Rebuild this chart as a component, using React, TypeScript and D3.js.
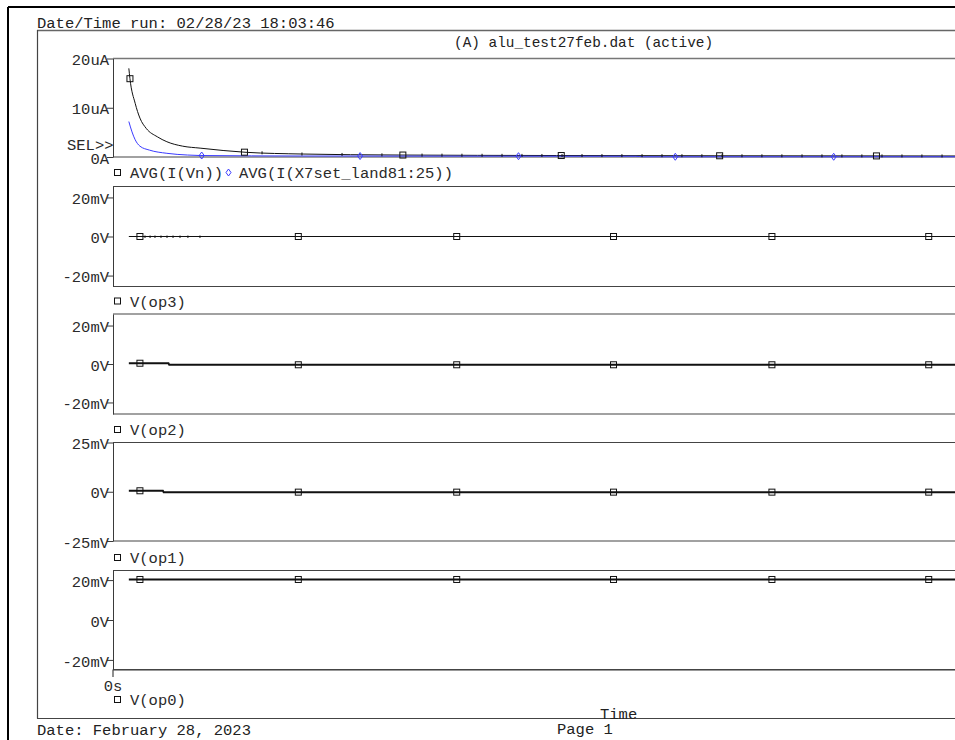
import * as d3 from "d3";
import { useRef, useEffect } from "react";

// time in microseconds (only 0s is labelled on the chart)
const timeDomain = [0, 56];

// top plot, uA
const vnTime = [1.0, 1.07, 1.4, 1.7, 2.1, 2.8, 3.4, 4.4, 5.5, 8.4, 12, 18, 28, 38, 56];
const vnAvg = [18.0, 15.9, 10.9, 7.9, 5.8, 4.1, 3.1, 2.2, 1.8, 0.95, 0.6, 0.4, 0.3, 0.25, 0.2];
const x7Time = [1.0, 1.2, 1.4, 1.7, 2.3, 3.4, 4.7, 5.5, 12, 33, 33.5, 56];
const x7Avg = [7.2, 5.1, 3.5, 2.2, 1.4, 0.75, 0.4, 0.3, 0.2, 0.15, 0.05, 0.05];
const vnMarkTime = [1.07, 8.3, 18.3, 28.3, 38.3, 48.2];
const x7MarkTime = [5.6, 15.6, 25.6, 35.5, 45.5];
// small data-point ticks along AVG(I(Vn))
const vnTickTime = [
  9.41, 11.93, 14.46, 16.98, 19.51, 20.77, 22.03, 23.3, 24.56, 25.82, 27.08, 28.35,
  29.61, 30.87, 32.13, 33.4, 34.66, 35.92, 37.18, 38.45, 39.71, 40.97, 42.23, 43.5,
  44.76, 46.02, 47.28, 48.55, 49.81, 51.07, 52.34,
];

// voltage plots, mV
const op3Time = [1.0, 56];
const op3 = [0, 0];
const op3TickTime = [2.02, 2.34, 2.65, 3.03, 3.41, 3.79, 4.23, 4.73, 5.49];
const op2Time = [1.0, 3.5, 3.55, 56];
const op2 = [0.4, 0.4, -0.4, -0.4];
const op1Time = [1.0, 3.15, 3.2, 56];
const op1 = [0.5, 0.5, -0.2, -0.2];
const op0Time = [1.0, 56];
const op0 = [20.3, 20.3];
const opMarkTime = [1.7, 11.7, 21.7, 31.6, 41.6, 51.5];

const uaTicks = [0, 10, 20];
const uaTickLabels = ["0A", "10uA", "20uA"];
const mv20Ticks = [-20, 0, 20];
const mv20Labels = ["-20mV", "0V", "20mV"];
const mv25Ticks = [-25, 0, 25];
const mv25Labels = ["-25mV", "0V", "25mV"];

const FONT = "'Liberation Mono', 'Courier New', monospace";
const W = 955;
const H = 740;
const AX = 113;

const x = d3.scaleLinear().domain(timeDomain).range([AX, 1000]);

const panels = [
  { top: 58.5, bottom: 157, domain: [0, 20], ticks: uaTicks, labels: uaTickLabels, legendY: 178 },
  { top: 186.5, bottom: 286.5, domain: [-25.6, 25.6], ticks: mv20Ticks, labels: mv20Labels, legendY: 306.5, name: "V(op3)", t: op3Time, v: op3, w: 1, dots: op3TickTime },
  { top: 314, bottom: 414, domain: [-26, 26], ticks: mv20Ticks, labels: mv20Labels, legendY: 435, name: "V(op2)", t: op2Time, v: op2, w: 2 },
  { top: 442.5, bottom: 541, domain: [-25, 25], ticks: mv25Ticks, labels: mv25Labels, legendY: 563, name: "V(op1)", t: op1Time, v: op1, w: 2 },
  { top: 570.5, bottom: 669.5, domain: [-24.8, 24.8], ticks: mv20Ticks, labels: mv20Labels, legendY: 705, name: "V(op0)", t: op0Time, v: op0, w: 2 },
];

function interp(ts: number[], vs: number[]) {
  return d3.scaleLinear().domain(ts).range(vs).clamp(true);
}

function YAxis({ y, ticks, labels }: any) {
  const ref = useRef<SVGGElement>(null);
  useEffect(() => {
    const g = d3.select(ref.current);
    g.call(
      d3.axisLeft(y)
        .tickValues(ticks)
        .tickFormat((d: any, i: number) => labels[i])
        .tickSize(6)
        .tickSizeOuter(0)
        .tickPadding(-2)
    );
    g.attr("font-family", FONT).attr("font-size", 15.5).attr("color", "#3a3a3a");
    g.selectAll("text").attr("fill", "#2a2a2a").attr("dy", "0.4em");
  }, [y, ticks, labels]);
  return <g ref={ref} transform={`translate(${AX},0)`} />;
}

function Square({ cx, cy }: { cx: number; cy: number }) {
  return <rect x={cx - 3} y={cy - 3} width={6} height={6} fill="none" stroke="#111" strokeWidth={1} />;
}

function Diamond({ cx, cy, color }: { cx: number; cy: number; color: string }) {
  return (
    <path
      d={`M${cx},${cy - 3.5}L${cx + 2.5},${cy}L${cx},${cy + 3.5}L${cx - 2.5},${cy}Z`}
      fill="none"
      stroke={color}
      strokeWidth={1}
    />
  );
}

export default function App() {
  const blue = "#3b3bff";
  const scales = panels.map((p) => d3.scaleLinear().domain(p.domain).range([p.bottom, p.top]));
  const y0 = scales[0];

  const vnLine = d3.line<number>().x((d, i) => x(vnTime[i])).y((d) => y0(d)).curve(d3.curveMonotoneX);
  const x7Line = d3.line<number>().x((d, i) => x(x7Time[i])).y((d) => y0(d)).curve(d3.curveMonotoneX);
  const vnAt = interp(vnTime, vnAvg);
  const x7At = interp(x7Time, x7Avg);

  return (
    <svg
      width={W}
      height={H}
      style={{ position: "absolute", left: 0, top: 0, background: "#fff" }}
      fontFamily={FONT}
    >
      {/* page border */}
      <line x1={8} y1={7} x2={W} y2={7} stroke="#000" strokeWidth={2} />
      <line x1={8} y1={7} x2={8} y2={H} stroke="#000" strokeWidth={2} />
      <text x={37} y={28} fontSize={15.5} fill="#222">Date/Time run: 02/28/23 18:03:46</text>

      {/* inner frame */}
      <line x1={37} y1={30.5} x2={W} y2={30.5} stroke="#666" strokeWidth={1.5} />
      <line x1={37.5} y1={30} x2={37.5} y2={718.5} stroke="#444" strokeWidth={1.2} />
      <line x1={37} y1={718.5} x2={W} y2={718.5} stroke="#444" strokeWidth={1.2} />
      <text x={454} y={47} fontSize={14.4} fill="#222">(A) alu_test27feb.dat (active)</text>

      {panels.map((p, k) => (
        <g key={k}>
          <line x1={AX} y1={p.top} x2={W} y2={p.top} stroke={k === 0 ? "#777" : "#444"} strokeWidth={k === 0 ? 1.5 : 1.2} />
          <line x1={AX} y1={p.bottom} x2={W} y2={p.bottom} stroke="#444" strokeWidth={1.2} />
          <YAxis y={scales[k]} ticks={p.ticks} labels={p.labels} />
        </g>
      ))}

      {/* top plot: currents */}
      <text x={67} y={149.5} fontSize={15.5} fill="#2a2a2a">SEL&gt;&gt;</text>
      <path d={vnLine(vnAvg) ?? ""} fill="none" stroke="#111" strokeWidth={1} />
      <path d={x7Line(x7Avg) ?? ""} fill="none" stroke={blue} strokeWidth={1} />
      {vnTickTime.map((t, i) => (
        <line key={"k" + i} x1={x(t)} x2={x(t)} y1={y0(vnAt(t)) - 1.5} y2={y0(vnAt(t)) + 1.5} stroke="#111" strokeWidth={1} />
      ))}
      {vnMarkTime.map((t, i) => (
        <Square key={"s" + i} cx={x(t)} cy={y0(vnAt(t))} />
      ))}
      {x7MarkTime.map((t, i) => (
        <Diamond key={"d" + i} cx={x(t)} cy={y0(x7At(t))} color={blue} />
      ))}
      <Square cx={117.5} cy={172.5} />
      <text x={130} y={178} fontSize={15.5} fill="#2a2a2a">AVG(I(Vn))</text>
      <Diamond cx={228.5} cy={172.5} color={blue} />
      <text x={239} y={178} fontSize={15.5} fill="#2a2a2a">AVG(I(X7set_land81:25))</text>

      {/* voltage plots */}
      {panels.slice(1).map((p: any, j) => {
        const ys = scales[j + 1];
        const line = d3.line<number>().x((d, i) => x(p.t[i])).y((d) => ys(d));
        const at = interp(p.t, p.v);
        return (
          <g key={"v" + j}>
            <path d={line(p.v) ?? ""} fill="none" stroke="#111" strokeWidth={p.w} />
            {(p.dots ?? []).map((t: number, i: number) => (
              <line key={"t" + i} x1={x(t)} x2={x(t)} y1={ys(at(t)) - 1} y2={ys(at(t)) + 1.5} stroke="#111" strokeWidth={1} />
            ))}
            {opMarkTime.map((t, i) => (
              <Square key={i} cx={x(t)} cy={ys(at(t))} />
            ))}
            <Square cx={117.5} cy={p.legendY - 5.5} />
            <text x={130} y={p.legendY} fontSize={15.5} fill="#2a2a2a">{p.name}</text>
          </g>
        );
      })}

      {/* x axis */}
      <line x1={AX} y1={670.5} x2={W} y2={670.5} stroke="#999" strokeWidth={1} />
      <line x1={AX} y1={669.5} x2={AX} y2={677} stroke="#444" strokeWidth={1.2} />
      <text x={AX} y={691} fontSize={15.5} fill="#2a2a2a" textAnchor="middle">{x.tickFormat()(0) + "s"}</text>
      <text x={600} y={719} fontSize={15.5} fill="#222">Time</text>

      <text x={37} y={735} fontSize={15.5} fill="#222">Date: February 28, 2023</text>
      <text x={557} y={734} fontSize={15.5} fill="#222">Page 1</text>
    </svg>
  );
}
